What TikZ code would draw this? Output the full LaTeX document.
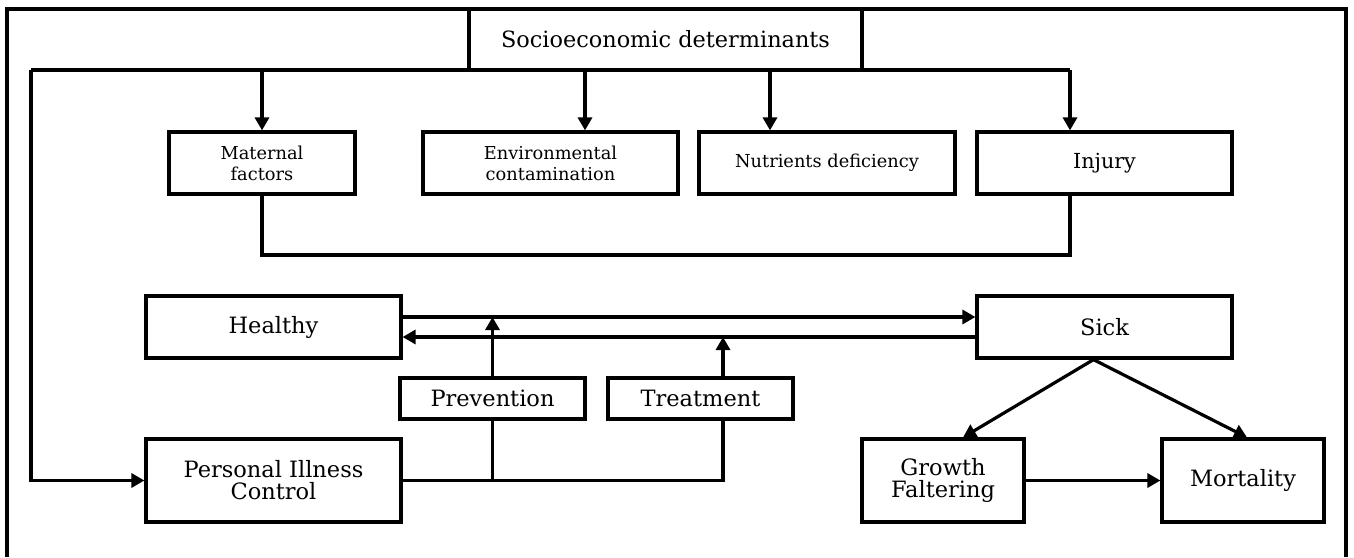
\documentclass[tikz,border=0pt]{standalone}
\usepackage{fontspec}
\setmainfont{DejaVu Serif}
\usetikzlibrary{arrows.meta}
\begin{document}
\begin{tikzpicture}[x=1pt,y=-1pt, line width=3.2pt,
  box/.style={draw, line width=3.2pt, inner sep=0pt, align=center, text=black},
  conn/.style={draw, line width=3.2pt},
  smallfont/.style={font=\fontsize{17.8}{21}\selectfont},
  bigfont/.style={font=\fontsize{22.5}{22}\selectfont},
  arr/.style={conn, -{Triangle[length=13pt,width=14pt]}}
]
\useasboundingbox (0,0) rectangle (1354,557);
% frame (open at the bottom)
\coordinate (fbl) at (7,557);
\coordinate (ftl) at (7,9);
\coordinate (ftr) at (1346,9);
\coordinate (fbr) at (1346,557);
\draw[conn] (fbl) -- (ftl) -- (ftr) -- (fbr);

% nodes
\node[box, font=\fontsize{22.4}{24}\selectfont, minimum width=393pt, minimum height=61pt] (socio) at (665.5,39.5) {Socioeconomic determinants};
\node[box, smallfont, minimum width=186pt, minimum height=62pt] (mat) at (262,163) {Maternal\\factors};
\node[box, smallfont, minimum width=255pt, minimum height=62pt] (env) at (550.5,163) {Environmental\\contamination};
\node[box, smallfont, minimum width=256pt, minimum height=62pt] (nut) at (827,163) {Nutrients deficiency};
\node[box, font=\fontsize{20.7}{22}\selectfont, minimum width=255pt, minimum height=62pt] (inj) at (1104.5,163) {Injury};
\node[box, bigfont, minimum width=255pt, minimum height=62pt] (healthy) at (273.5,327) {Healthy};
\node[box, bigfont, minimum width=255pt, minimum height=62pt] (sick) at (1104.5,327) {Sick};
\node[box, bigfont, minimum width=185pt, minimum height=41pt] (prev) at (492.5,398.5) {Prevention};
\node[box, bigfont, minimum width=185pt, minimum height=41pt] (treat) at (700.5,398.5) {Treatment};
\node[box, bigfont, minimum width=255pt, minimum height=83pt] (pic) at (273.5,480.5) {Personal Illness\\Control};
\node[box, bigfont, minimum width=162pt, minimum height=83pt] (growth) at (943,480.5) {Growth\\Faltering};
\node[box, bigfont, minimum width=162pt, minimum height=83pt] (mort) at (1243,480.5) {Mortality};

% bus from socioeconomic determinants
\coordinate (busL) at (31,70);
\coordinate (busR) at (1070,70);
\draw[conn] (busR) -- (busL);
\draw[arr] (busL) |- (pic.west);
\draw[arr] (mat.north |- busL) -- (mat.north);
\draw[arr] ([xshift=34.5pt]env.north |- busL) -- ([xshift=34.5pt]env.north);
\draw[arr] ([xshift=-57pt]nut.north |- busL) -- ([xshift=-57pt]nut.north);
\draw[arr] (busR) -- ([xshift=-34.5pt]inj.north);

% joining line below the factors
\coordinate (join) at (1070,255);
\draw[conn] (mat.south) |- (join) -- ([xshift=-34.5pt]inj.south);

% healthy <-> sick
\coordinate (hUp) at ([yshift=10pt]healthy.east);
\coordinate (hDn) at ([yshift=-10pt]healthy.east);
\coordinate (sUp) at ([yshift=10pt]sick.west);
\coordinate (sDn) at ([yshift=-10pt]sick.west);
\draw[arr] (hUp) -- (sUp);
\draw[arr] (sDn) -- (hDn);

% prevention and treatment
\coordinate (tTop) at ([xshift=22.5pt]treat.north);
\coordinate (tBot) at ([xshift=22.5pt]treat.south);
\draw[arr] (prev.north) -- (prev.north |- hUp);
\draw[arr] (tTop) -- (tTop |- hDn);
\draw[conn] (pic.east) -| (tBot);
\draw[conn] (prev.south) -- (prev.south |- pic.east);

% outcomes
\coordinate (sBot) at ([xshift=-11pt]sick.south);
\draw[arr] (sBot) -- ([xshift=20pt]growth.north);
\draw[arr] (sBot) -- ([xshift=4pt]mort.north);
\draw[arr] (growth.east) -- (mort.west);
\end{tikzpicture}
\end{document}
